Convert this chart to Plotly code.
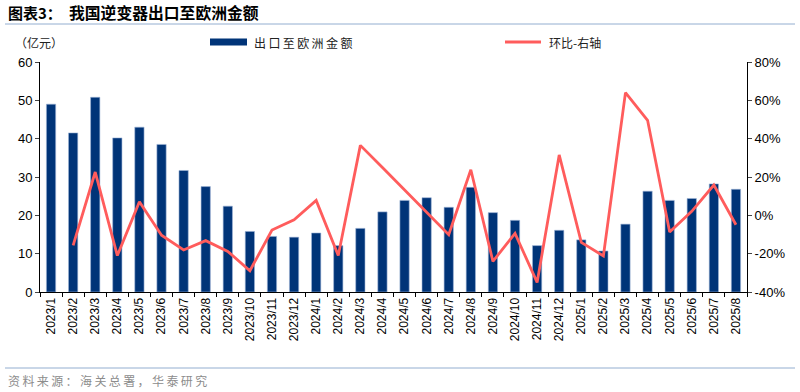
import plotly.graph_objects as go

months = ["2023/1","2023/2","2023/3","2023/4","2023/5","2023/6","2023/7","2023/8","2023/9","2023/10","2023/11","2023/12",
          "2024/1","2024/2","2024/3","2024/4","2024/5","2024/6","2024/7","2024/8","2024/9","2024/10","2024/11","2024/12",
          "2025/1","2025/2","2025/3","2025/4","2025/5","2025/6","2025/7","2025/8"]
export_eu = [49.0, 41.5, 50.8, 40.2, 43.0, 38.5, 31.7, 27.5, 22.4, 15.8, 14.5, 14.3,
             15.4, 12.1, 16.6, 20.9, 23.9, 24.6, 22.1, 27.3, 20.7, 18.7, 12.1, 16.1,
             13.6, 10.7, 17.7, 26.3, 23.9, 24.4, 28.2, 26.8]
mom_pct = [None, -15.7, 22.6, -21.0, 7.1, -10.4, -18.1, -13.2, -18.8, -28.9, -7.7, -2.3,
           7.8, -21.0, 36.5, 24.9, 13.2, 1.6, -10.1, 23.8, -24.0, -9.4, -35.0, 31.5,
           -14.1, -21.2, 64.0, 49.6, -8.7, 2.1, 15.8, -4.9]
left_ticks = [0, 10, 20, 30, 40, 50, 60]
right_ticks = [-40, -20, 0, 20, 40, 60, 80]

BAR_C = "#003478"
LINE_C = "#FF5C5C"
FONT = "Liberation Sans, Arial, sans-serif"
CJK = "Noto Sans CJK SC"

L, R, T, B = 40, 53, 62, 100
PW, PH = 800 - L - R, 392 - T - B

def px(x):
    return (x - L) / PW

def py(y):
    return (392 - B - y) / PH

def spaced(s, sep="\u2009"):
    return sep.join(s)

fig = go.Figure()
fig.add_trace(go.Bar(x=months, y=export_eu, name="出口至欧洲金额", marker_color=BAR_C,
                     marker_line_color="#9fb6d6", marker_line_width=0.6, width=0.42,
                     showlegend=False))
fig.add_trace(go.Scatter(x=months, y=mom_pct, name="环比-右轴", yaxis="y2", mode="lines",
                         line=dict(color=LINE_C, width=2.8), showlegend=False))

fig.update_layout(
    width=800, height=392,
    margin=dict(l=L, r=R, t=T, b=B, autoexpand=False),
    plot_bgcolor="white", paper_bgcolor="white",
    font=dict(family=FONT, size=13, color="black"),
    showlegend=False,
    xaxis=dict(type="category", showline=True, linecolor="black", linewidth=1,
               ticks="outside", tickson="boundaries", ticklen=4, tickcolor="black",
               tickangle=-90, tickfont=dict(family=FONT, size=12), showgrid=False,
               automargin=False),
    yaxis=dict(range=[0, 60], tickvals=left_ticks, showline=True, linecolor="black",
               ticks="outside", ticklen=4, showgrid=False, zeroline=False,
               tickfont=dict(family=FONT, size=13), automargin=False),
    yaxis2=dict(range=[-40, 80], tickvals=right_ticks, ticktext=[f"{v}%" for v in right_ticks],
                overlaying="y", side="right", showline=True, linecolor="black",
                ticks="outside", ticklen=4, showgrid=False, zeroline=False,
                tickfont=dict(family=FONT, size=13), automargin=False),
)

# title, unit, source
fig.add_annotation(text="<b>图表3：</b>", xref="paper", yref="paper",
                   x=px(6), y=py(13), xanchor="left", yanchor="middle", showarrow=False,
                   font=dict(family=CJK, size=15, color="black"))
fig.add_annotation(text="<b>我国逆变器出口至欧洲金额</b>", xref="paper", yref="paper",
                   x=px(67), y=py(13), xanchor="left", yanchor="middle", showarrow=False,
                   font=dict(family=CJK, size=15.8, color="black"))
fig.add_annotation(text="（亿元）", xref="paper", yref="paper",
                   x=px(13), y=py(42), xanchor="left", yanchor="middle", showarrow=False,
                   font=dict(family=CJK, size=12, color="#222"))
fig.add_annotation(text=spaced("资料来源：海关总署，华泰研究"), xref="paper", yref="paper",
                   x=px(6), y=py(380), xanchor="left", yanchor="middle", showarrow=False,
                   font=dict(family=CJK, size=12, color="#8c8c8c"))
for yy in (24, 368):
    fig.add_shape(type="line", xref="paper", yref="paper", x0=px(5), x1=px(795),
                  y0=py(yy), y1=py(yy), line=dict(color="#93aed0", width=1))

# legend
fig.add_shape(type="rect", xref="paper", yref="paper", x0=px(210), x1=px(247),
              y0=py(45.5), y1=py(38.5), fillcolor=BAR_C, line=dict(width=0))
fig.add_annotation(text=spaced("出口至欧洲金额"), xref="paper", yref="paper", x=px(252), y=py(42),
                   xanchor="left", yanchor="middle", showarrow=False,
                   font=dict(family=CJK, size=12, color="#222"))
fig.add_shape(type="line", xref="paper", yref="paper", x0=px(505), x1=px(541),
              y0=py(42), y1=py(42), line=dict(color=LINE_C, width=2.8))
fig.add_annotation(text="环比-右轴", xref="paper", yref="paper", x=px(547), y=py(42),
                   xanchor="left", yanchor="middle", showarrow=False,
                   font=dict(family=CJK, size=12, color="#222"))

fig.write_html("out.html", config={"displayModeBar": False},
               post_script="document.body.style.margin='0';document.body.style.overflow='hidden';")
